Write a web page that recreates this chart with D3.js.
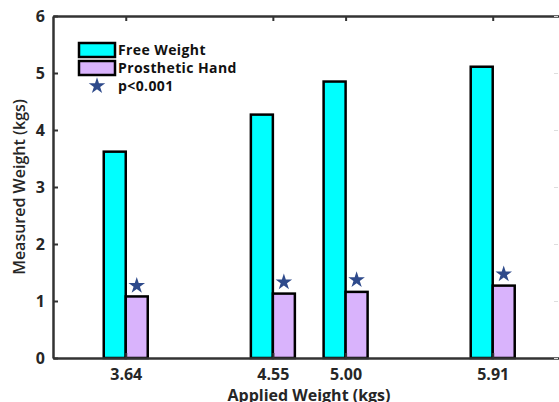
<!DOCTYPE html>
<html>
<head>
<meta charset="utf-8">
<script src="https://cdn.jsdelivr.net/npm/d3@7"></script>
<style>
  body { margin: 0; background: #fff; }
  svg { display: block; }
</style>
</head>
<body>
<div id="chart"></div>
<script>
// applied weights (kgs) and measured weights per group
var appliedWeights = [3.64, 4.55, 5.00, 5.91];
var tickLabels = ["3.64", "4.55", "5.00", "5.91"];
var freeWeight = [3.62, 4.27, 4.85, 5.11];
var prostheticHand = [1.08, 1.13, 1.16, 1.27];
var starLevel = [1.27, 1.33, 1.37, 1.47];
var yTicks = [0, 1, 2, 3, 4, 5, 6];
var seriesNames = ["Free Weight", "Prosthetic Hand"];
var seriesColors = ["#00ffff", "#d9b3fc"];

window.onload = function () {
    drawChart();
};

function drawChart() {
    var width = 559, height = 402;
    var svg = d3.select("#chart").append("svg")
        .attr("width", width).attr("height", height);

    var left = 53, right = 559, top = 16, bottom = 358;
    var barW = 22;
    var axisColor = "#333";
    var textColor = "#262626";
    var font = "'Open Sans', 'Liberation Sans', sans-serif";

    var xScale = d3.scaleLinear().domain([3.19, 6.32]).range([left, right]);
    var yScale = d3.scaleLinear().domain([0, 6]).range([bottom, top]);

    // bars
    var groups = svg.append("g");
    groups.selectAll(".free")
        .data(appliedWeights)
        .enter().append("rect")
        .attr("class", "free")
        .attr("x", function (d) { return xScale(d) - barW; })
        .attr("y", function (d, i) { return yScale(freeWeight[i]); })
        .attr("width", barW)
        .attr("height", function (d, i) { return yScale(0) - yScale(freeWeight[i]); })
        .attr("fill", seriesColors[0])
        .attr("stroke", "#000")
        .attr("stroke-width", 2.5);

    groups.selectAll(".prost")
        .data(appliedWeights)
        .enter().append("rect")
        .attr("class", "prost")
        .attr("x", function (d) { return xScale(d); })
        .attr("y", function (d, i) { return yScale(prostheticHand[i]); })
        .attr("width", barW)
        .attr("height", function (d, i) { return yScale(0) - yScale(prostheticHand[i]); })
        .attr("fill", seriesColors[1])
        .attr("stroke", "#000")
        .attr("stroke-width", 2.5);

    // significance stars
    var star = d3.symbol().type(d3.symbolStar).size(85);
    svg.selectAll(".star")
        .data(appliedWeights)
        .enter().append("path")
        .attr("class", "star")
        .attr("d", star)
        .attr("transform", function (d, i) {
            return "translate(" + (xScale(d) + barW / 2) + "," + yScale(starLevel[i]) + ")";
        })
        .attr("fill", "#2e4a8b");

    // axes
    var yAxis = svg.append("g")
        .attr("transform", "translate(" + left + ",0)")
        .call(d3.axisLeft(yScale).tickValues(yTicks).tickFormat(d3.format("d"))
            .tickSizeInner(-5).tickSizeOuter(0).tickPadding(8));
    var xAxis = svg.append("g")
        .attr("transform", "translate(0," + bottom + ")")
        .call(d3.axisBottom(xScale).tickValues(appliedWeights)
            .tickFormat(function (d, i) { return tickLabels[i]; })
            .tickSizeInner(-5).tickSizeOuter(0).tickPadding(11));
    var topAxis = svg.append("g")
        .attr("transform", "translate(0," + top + ")")
        .call(d3.axisTop(xScale).tickValues(appliedWeights)
            .tickFormat("").tickSizeInner(-5).tickSizeOuter(0));
    var rightAxis = svg.append("g")
        .attr("transform", "translate(" + (right - 1) + ",0)")
        .call(d3.axisRight(yScale).tickValues(yTicks).tickFormat("")
            .tickSizeInner(-4).tickSizeOuter(0));
    rightAxis.select(".domain").remove();
    rightAxis.selectAll("line").attr("stroke", "#ddd");

    [yAxis, xAxis, topAxis].forEach(function (a) {
        a.select(".domain").attr("stroke", axisColor).attr("stroke-width", 2.5);
        a.selectAll(".tick line").attr("stroke", axisColor).attr("stroke-width", 2);
        a.selectAll("text")
            .attr("fill", textColor)
            .style("font-family", font)
            .style("font-weight", "bold")
            .style("font-size", "16px");
    });

    // axis titles
    svg.append("text")
        .attr("transform", "translate(25," + ((top + bottom) / 2) + ") rotate(-90)")
        .style("text-anchor", "middle")
        .style("font-family", font)
        .style("font-weight", "600")
        .style("font-size", "16px")
        .attr("fill", textColor)
        .text("Measured Weight (kgs)");

    svg.append("text")
        .attr("x", (left + right) / 2 + 3)
        .attr("y", 401)
        .style("text-anchor", "middle")
        .style("font-family", font)
        .style("font-weight", "bold")
        .style("font-size", "16px")
        .attr("fill", textColor)
        .text("Applied Weight (kgs)");

    // legend
    var legend = svg.append("g").attr("transform", "translate(79,43)");
    seriesNames.forEach(function (name, i) {
        legend.append("rect")
            .attr("x", 0).attr("y", i * 18)
            .attr("width", 36).attr("height", 14)
            .attr("fill", seriesColors[i])
            .attr("stroke", "#000").attr("stroke-width", 2.5);
        legend.append("text")
            .attr("x", 39).attr("y", i * 18 + 12)
            .style("font-family", font)
            .style("font-weight", "bold")
            .style("font-size", "14px")
            .style("letter-spacing", "0.4px")
            .attr("fill", "#111")
            .text(name);
    });
    legend.append("path")
        .attr("d", star)
        .attr("transform", "translate(18,43)")
        .attr("fill", "#2e4a8b");
    legend.append("text")
        .attr("x", 39).attr("y", 48)
        .style("font-family", font)
        .style("font-weight", "bold")
        .style("font-size", "14px")
        .style("letter-spacing", "0.4px")
        .attr("fill", "#111")
        .text("p<0.001");
}
</script>
</body>
</html>
